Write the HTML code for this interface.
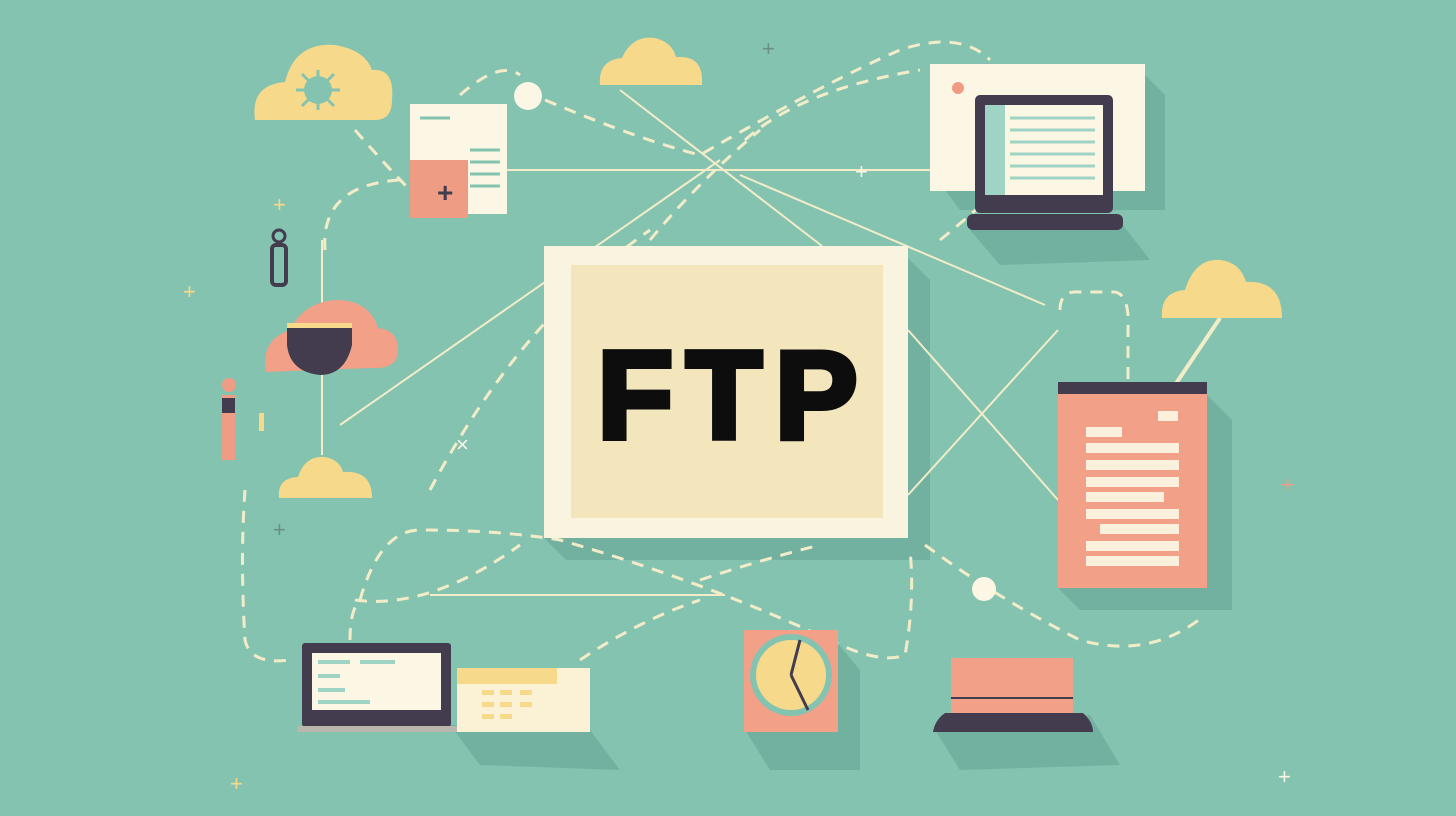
<!DOCTYPE html>
<html><head><meta charset="utf-8"><style>
html,body{margin:0;padding:0;background:#85c3b1;}
svg{display:block}
</style></head><body>
<svg width="1456" height="816" viewBox="0 0 1456 816" xmlns="http://www.w3.org/2000/svg">
<rect width="1456" height="816" fill="#85c3b1"/>
<g fill="#72b09f">
<polygon points="908,258 930,280 930,560 566,560 544,538 908,538"/>
<polygon points="1207,395 1232,420 1232,610 1080,610 1058,588 1207,588"/>
<polygon points="1145,75 1165,95 1165,210 960,210 945,190 1145,190"/>
<polygon points="450,725 480,765 620,770 590,730"/>
<polygon points="835,640 860,670 860,770 770,770 745,730 835,730"/>
<polygon points="1090,715 1120,765 960,770 935,730"/>
<polygon points="1123,225 1150,260 1000,265 970,230"/>
</g>
<g fill="none" stroke="#f3ecc8" stroke-width="2">
<line x1="340" y1="425" x2="720" y2="160"/>
<line x1="620" y1="90" x2="822" y2="246"/>
<line x1="505" y1="170" x2="940" y2="170"/>
<line x1="740" y1="175" x2="1045" y2="305"/>
<line x1="908" y1="330" x2="1058" y2="500"/>
<line x1="908" y1="495" x2="1058" y2="330"/>
<line x1="430" y1="595" x2="725" y2="595"/>
<line x1="322" y1="240" x2="322" y2="455"/>
</g>
<g fill="none" stroke="#f3ecc8" stroke-width="3" stroke-dasharray="12 9">
<path d="M355,130 Q390,170 410,190"/>
<path d="M325,250 Q320,185 400,180"/>
<path d="M460,95 Q500,60 520,75"/>
<path d="M545,100 Q640,140 700,155 Q830,80 900,50 Q960,30 990,60"/>
<path d="M745,140 Q800,90 920,70"/>
<path d="M430,490 Q520,320 650,230"/>
<path d="M650,240 Q700,180 760,130"/>
<path d="M940,240 Q990,200 1010,175"/>
<path d="M245,490 Q240,560 245,640 Q250,665 290,660"/>
<path d="M350,640 Q350,610 360,600 Q380,530 420,530 Q500,530 560,540 Q700,580 830,640 Q880,665 905,655 Q915,600 910,550"/>
<path d="M355,600 Q430,610 520,545"/>
<path d="M700,580 Q760,560 820,545"/>
<path d="M925,545 Q1000,600 1080,640 Q1150,660 1205,615"/>
<path d="M1060,310 Q1060,290 1080,292 L1115,292 Q1130,295 1128,330 L1128,380"/>
<path d="M580,660 Q640,620 700,600"/>
</g>
<line x1="1175" y1="385" x2="1220" y2="318" stroke="#f3ecc8" stroke-width="4"/>
<!-- center box -->
<rect x="544" y="246" width="364" height="292" fill="#f8f4df"/>
<rect x="571" y="265" width="312" height="253" fill="#f3e6bd"/>
<text x="734" y="438" text-anchor="middle" font-family="Liberation Sans, sans-serif" font-weight="bold" font-size="124" letter-spacing="13" fill="#0d0d0d" stroke="#0d0d0d" stroke-width="6" stroke-linejoin="miter">FTP</text>
<!-- clouds -->
<g fill="#f6d98a">
<path d="M255,120 Q250,85 285,82 Q295,42 335,45 Q365,50 372,70 Q395,68 392,100 Q392,120 375,120 Z"/>
<path d="M600,85 Q598,60 622,58 Q632,35 655,38 Q672,42 676,57 Q702,55 702,80 L702,85 Z"/>
<path d="M1162,318 Q1160,292 1185,290 Q1195,258 1220,260 Q1240,262 1246,282 Q1282,280 1282,318 Z"/>
<path d="M279,498 Q277,478 298,477 Q305,455 325,457 Q340,460 343,472 Q372,470 372,498 Z"/>
</g>
<path d="M266,372 Q260,340 290,330 Q305,300 340,300 Q370,302 378,328 Q398,330 398,350 Q398,370 370,368 Z" fill="#f2a088"/>
<path d="M287,325 L352,325 L352,345 Q345,375 320,375 Q290,372 287,345 Z" fill="#433c4e"/>
<rect x="287" y="323" width="65" height="5" fill="#f6d98a"/>
<circle cx="318" cy="90" r="14" fill="#85c3b1"/>
<g stroke="#85c3b1" stroke-width="3"><line x1="296" y1="90" x2="340" y2="90"/><line x1="318" y1="70" x2="318" y2="110"/><line x1="302" y1="74" x2="334" y2="106"/><line x1="334" y1="74" x2="302" y2="106"/></g>
<!-- doc top-left -->
<rect x="410" y="104" width="97" height="110" fill="#fbf7e4"/>
<rect x="410" y="160" width="58" height="58" fill="#ef9c85"/>
<text x="437" y="202" font-family="Liberation Sans,sans-serif" font-size="28" font-weight="bold" fill="#433c4e">+</text>
<g stroke="#85c3b1" stroke-width="3"><line x1="470" y1="150" x2="500" y2="150"/><line x1="470" y1="162" x2="500" y2="162"/><line x1="470" y1="174" x2="500" y2="174"/><line x1="470" y1="186" x2="500" y2="186"/><line x1="420" y1="118" x2="450" y2="118"/></g>
<circle cx="528" cy="96" r="14" fill="#fbf7e4"/>
<!-- monitor top right -->
<rect x="930" y="64" width="215" height="127" fill="#fbf7e4"/>
<rect x="975" y="95" width="138" height="118" rx="5" fill="#433c4e"/>
<rect x="985" y="105" width="118" height="90" fill="#fbf7e4"/>
<rect x="985" y="105" width="20" height="90" fill="#9fd3c3"/>
<g stroke="#9fd3c3" stroke-width="3"><line x1="1010" y1="118" x2="1095" y2="118"/><line x1="1010" y1="130" x2="1095" y2="130"/><line x1="1010" y1="142" x2="1095" y2="142"/><line x1="1010" y1="154" x2="1095" y2="154"/><line x1="1010" y1="166" x2="1095" y2="166"/><line x1="1010" y1="178" x2="1095" y2="178"/></g>
<rect x="967" y="214" width="156" height="16" rx="6" fill="#433c4e"/>
<circle cx="958" cy="88" r="6" fill="#ef9c85"/>
<!-- right doc -->
<rect x="1058" y="382" width="149" height="206" fill="#f2a088"/>
<rect x="1058" y="382" width="149" height="12" fill="#433c4e"/>
<g fill="#fbf0dc"><rect x="1158" y="411" width="20" height="10"/><rect x="1086" y="427" width="36" height="10"/><rect x="1086" y="443" width="93" height="10"/><rect x="1086" y="460" width="93" height="10"/><rect x="1086" y="477" width="93" height="10"/><rect x="1086" y="492" width="78" height="10"/><rect x="1086" y="509" width="93" height="10"/><rect x="1100" y="524" width="79" height="10"/><rect x="1086" y="541" width="93" height="10"/><rect x="1086" y="556" width="93" height="10"/></g>
<!-- bottom laptop left -->
<rect x="302" y="643" width="149" height="84" rx="3" fill="#433c4e"/>
<rect x="312" y="653" width="129" height="57" fill="#fbf7e4"/>
<g stroke="#9fd3c3" stroke-width="4"><line x1="318" y1="662" x2="350" y2="662"/><line x1="360" y1="662" x2="395" y2="662"/><line x1="318" y1="676" x2="340" y2="676"/><line x1="318" y1="690" x2="345" y2="690"/><line x1="318" y1="702" x2="370" y2="702"/></g>
<rect x="297" y="726" width="160" height="6" fill="#b9b6ae"/>
<rect x="457" y="668" width="133" height="64" fill="#fbf1d4"/>
<rect x="457" y="668" width="100" height="16" fill="#f6d98a"/>
<g fill="#f6d98a"><rect x="482" y="690" width="12" height="5"/><rect x="500" y="690" width="12" height="5"/><rect x="520" y="690" width="12" height="5"/><rect x="482" y="702" width="12" height="5"/><rect x="500" y="702" width="12" height="5"/><rect x="520" y="702" width="12" height="5"/><rect x="482" y="714" width="12" height="5"/><rect x="500" y="714" width="12" height="5"/></g>
<!-- clock -->
<rect x="744" y="630" width="94" height="102" fill="#f2a088"/>
<circle cx="791" cy="675" r="41" fill="#85c3b1"/>
<circle cx="791" cy="675" r="35" fill="#f6d98a"/>
<line x1="791" y1="675" x2="808" y2="710" stroke="#433c4e" stroke-width="3"/>
<line x1="791" y1="675" x2="800" y2="640" stroke="#433c4e" stroke-width="3"/>
<!-- bottom right laptop -->
<rect x="951" y="658" width="122" height="56" fill="#f2a088"/>
<line x1="951" y1="698" x2="1073" y2="698" stroke="#433c4e" stroke-width="2"/>
<path d="M945,713 L1083,713 Q1093,722 1093,732 L933,732 Q935,720 945,713 Z" fill="#433c4e"/>
<!-- small icons -->
<rect x="272" y="245" width="14" height="40" rx="4" fill="none" stroke="#433c4e" stroke-width="4"/>
<circle cx="279" cy="236" r="6" fill="none" stroke="#433c4e" stroke-width="3"/>
<circle cx="229" cy="385" r="7" fill="#ef9c85"/>
<rect x="222" y="395" width="13" height="65" fill="#ef9c85"/>
<rect x="222" y="398" width="13" height="15" fill="#433c4e"/>
<circle cx="984" cy="589" r="12" fill="#fbf7e4"/>
<rect x="259" y="413" width="5" height="18" fill="#f6d98a"/>
<g font-family="Liberation Sans,sans-serif" font-size="22">
<text x="183" y="299" fill="#f6d98a">+</text><text x="273" y="212" fill="#f6d98a">+</text>
<text x="1281" y="492" fill="#ef9c85">+</text><text x="1278" y="784" fill="#fbf7e4">+</text>
<text x="230" y="791" fill="#f6d98a">+</text><text x="762" y="56" fill="#6a8f86">+</text>
<text x="855" y="179" fill="#fbf7e4">+</text><text x="273" y="537" fill="#6a8f86">+</text>
<text x="456" y="452" fill="#fbf7e4">×</text>
</g>
</svg>
</body></html>
